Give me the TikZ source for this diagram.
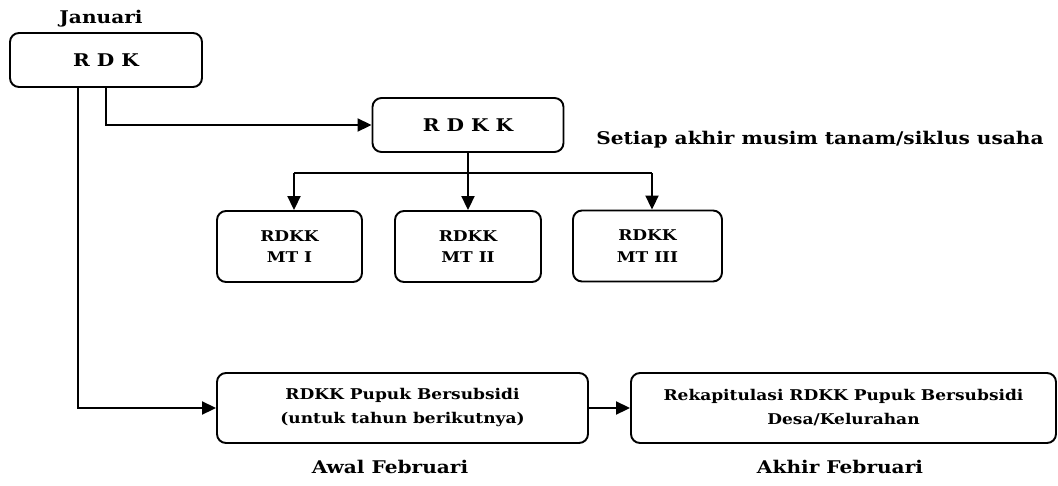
\documentclass[tikz,border=0pt]{standalone}
\usepackage{fontspec}
\setmainfont{DejaVu Serif}[FakeStretch=1.15]
\usetikzlibrary{arrows.meta}
\begin{document}
\begin{tikzpicture}[x=1pt,y=-1pt,
  box/.style={draw,line width=1.9pt,rounded corners=9pt,align=center,inner sep=0pt},
  big/.style={font=\fontsize{17.5}{20}\selectfont\bfseries},
  small/.style={font=\fontsize{14.8}{24}\selectfont\bfseries},
  tight/.style={font=\fontsize{14.8}{21.5}\selectfont\bfseries},
  link/.style={line width=1.9pt},
  arr/.style={link,-{Triangle[length=14pt,width=13pt]}}]
\useasboundingbox (0,0) rectangle (1058,485);

% main boxes
\node[box,big,minimum width=192pt,minimum height=54pt] (rdk) at (106,60) {R D K};
\node[box,big,minimum width=191pt,minimum height=54pt] (rdkk) at (468,125) {R D K K};

% seasonal plans
\node[box,tight,minimum width=145pt,minimum height=71pt] (mt1) at (289.5,246.5) {RDKK\\MT I};
\node[box,tight,minimum width=146pt,minimum height=71pt] (mt2) at (468,246.5) {RDKK\\MT II};
\node[box,tight,minimum width=149pt,minimum height=71pt] (mt3) at (647.5,246) {RDKK\\MT III};

% subsidised fertiliser plans
\node[box,small,minimum width=371pt,minimum height=70pt] (pb) at (402.5,408) {RDKK Pupuk Bersubsidi\\(untuk tahun berikutnya)};
\node[box,small,minimum width=425pt,minimum height=70pt] (rk) at (843.5,408) {Rekapitulasi RDKK Pupuk Bersubsidi\\Desa/Kelurahan};

% time labels
\node[big] (jan) at (101,19) {Januari};
\node[big] (setiap) at (820,140) {Setiap akhir musim tanam/siklus usaha};
\node[big] (awal) at (390,467) {Awal Februari};
\node[big] (akhir) at (840,467) {Akhir Februari};

% connectors
\coordinate (ka) at (78,0);
\coordinate (barL) at (294,173);
\coordinate (barR) at (652,173);
\draw[arr] (rdk.south -| ka) |- (pb.west);
\draw[arr] (rdk.south) |- (rdkk.west);
\draw[link] (barL) -- (barR);
\draw[arr] (rdkk.south) -- (mt2.north);
\draw[arr] (barL) -- (barL |- mt1.north);
\draw[arr] (barR) -- (barR |- mt3.north);
\draw[arr] (pb.east) -- (rk.west);
\end{tikzpicture}
\end{document}
